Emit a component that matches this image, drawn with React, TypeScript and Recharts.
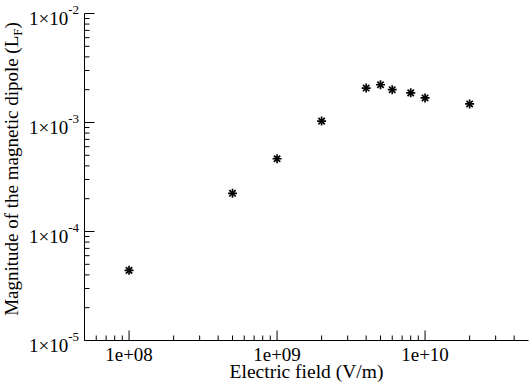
import React from "react";
import { Label, Scatter, ScatterChart, XAxis, YAxis } from "recharts";

// electric field (V/m) vs magnitude of magnetic dipole (L_F)
const FIELD = [1e8, 5e8, 1e9, 2e9, 4e9, 5e9, 6e9, 8e9, 1e10, 2e10];
const DIPOLE = [4.4e-5, 2.24e-4, 4.65e-4, 1.03e-3, 2.07e-3, 2.22e-3, 2.0e-3, 1.87e-3, 1.68e-3, 1.48e-3];

const X_MAJOR = [1e8, 1e9, 1e10];
const X_LABELS = ["1e+08", "1e+09", "1e+10"];
const X_MINOR = [
  6e7, 7e7, 8e7, 9e7,
  2e8, 3e8, 4e8, 5e8, 6e8, 7e8, 8e8, 9e8,
  2e9, 3e9, 4e9, 5e9, 6e9, 7e9, 8e9, 9e9,
  2e10, 3e10, 4e10,
];

const Y_MAJOR = [1e-5, 1e-4, 1e-3, 1e-2];
const Y_EXPONENTS = ["-5", "-4", "-3", "-2"];
const Y_MINOR = [
  2e-5, 3e-5, 4e-5, 5e-5, 6e-5, 7e-5, 8e-5, 9e-5,
  2e-4, 3e-4, 4e-4, 5e-4, 6e-4, 7e-4, 8e-4, 9e-4,
  2e-3, 3e-3, 4e-3, 5e-3, 6e-3, 7e-3, 8e-3, 9e-3,
];

const data = FIELD.map((f, i) => ({ field: f, dipole: DIPOLE[i] }));
const X_TICKS = [...X_MAJOR, ...X_MINOR].sort((a, b) => a - b);
const Y_TICKS = [...Y_MAJOR, ...Y_MINOR].sort((a, b) => a - b);

const TXT = { fontFamily: "Liberation Serif", fontSize: 19, fill: "#000" };
const MAJOR_LEN = 10;
const MINOR_LEN = 5;

function BottomTick({ x, y, payload }: any) {
  const idx = X_MAJOR.indexOf(payload.value);
  const major = idx >= 0;
  return (
    <g>
      <line x1={x} x2={x} y1={y} y2={y - (major ? MAJOR_LEN : MINOR_LEN)} stroke="#000" />
      {major && (
        <text x={x} y={y + 20} textAnchor="middle" style={TXT}>
          {X_LABELS[idx]}
        </text>
      )}
    </g>
  );
}

function TopTick({ x, y, payload }: any) {
  const major = X_MAJOR.includes(payload.value);
  return <line x1={x} x2={x} y1={y} y2={y + (major ? MAJOR_LEN : MINOR_LEN)} stroke="#000" />;
}

function LeftTick({ x, y, payload }: any) {
  const idx = Y_MAJOR.indexOf(payload.value);
  const major = idx >= 0;
  return (
    <g>
      <line x1={x} x2={x + (major ? MAJOR_LEN : MINOR_LEN)} y1={y} y2={y} stroke="#000" />
      {major && (
        <text x={x - 5.5} y={y + 11} textAnchor="end" style={TXT}>
          1×10
          <tspan dy={-10.5} style={{ fontSize: 13 }}>
            {Y_EXPONENTS[idx]}
          </tspan>
        </text>
      )}
    </g>
  );
}

function RightTick({ x, y, payload }: any) {
  const major = Y_MAJOR.includes(payload.value);
  return <line x1={x} x2={x - (major ? MAJOR_LEN : MINOR_LEN)} y1={y} y2={y} stroke="#000" />;
}

function Asterisk({ cx, cy }: any) {
  const r = 4.5;
  const d = r * 0.707;
  return (
    <g stroke="#000" strokeWidth={1.7}>
      <line x1={cx - r} x2={cx + r} y1={cy} y2={cy} />
      <line x1={cx} x2={cx} y1={cy - r} y2={cy + r} />
      <line x1={cx - d} x2={cx + d} y1={cy - d} y2={cy + d} />
      <line x1={cx - d} x2={cx + d} y1={cy + d} y2={cy - d} />
    </g>
  );
}

function YTitle() {
  return (
    <text transform="rotate(-90, 18, 169)" x={18} y={169} textAnchor="middle" style={TXT}>
      Magnitude of the magnetic dipole (L
      <tspan dy={4} style={{ fontSize: 13 }}>
        F
      </tspan>
      <tspan dy={-4}>)</tspan>
    </text>
  );
}

export default function App() {
  return (
    <div style={{ position: "absolute", left: 0, top: 0, background: "#fff" }}>
      <ScatterChart
        width={531}
        height={382}
        margin={{ top: 13.5, right: 2.5, bottom: 0, left: 8.5 }}
      >
        <XAxis
          xAxisId="bottom"
          dataKey="field"
          type="number"
          scale="log"
          domain={[5e7, 5e10]}
          allowDataOverflow
          ticks={X_TICKS}
          interval={0}
          tickSize={0}
          tickMargin={0}
          tick={<BottomTick />}
          height={41.5}
          axisLine={{ stroke: "#000" }}
        >
          <Label
            value="Electric field (V/m)"
            position="insideBottom"
            offset={4}
            style={{ ...TXT, fontSize: 19.5 }}
          />
        </XAxis>
        <XAxis
          xAxisId="top"
          orientation="top"
          dataKey="field"
          type="number"
          scale="log"
          domain={[5e7, 5e10]}
          allowDataOverflow
          ticks={X_TICKS}
          interval={0}
          tickSize={0}
          tickMargin={0}
          tick={<TopTick />}
          height={0}
          axisLine={{ stroke: "#000" }}
        />
        <YAxis
          yAxisId="left"
          dataKey="dipole"
          type="number"
          scale="log"
          domain={[1e-5, 1e-2]}
          allowDataOverflow
          ticks={Y_TICKS}
          interval={0}
          tickSize={0}
          tickMargin={0}
          tick={<LeftTick />}
          width={76}
          axisLine={{ stroke: "#000" }}
        >
          <Label content={<YTitle />} />
        </YAxis>
        <YAxis
          yAxisId="right"
          orientation="right"
          dataKey="dipole"
          type="number"
          scale="log"
          domain={[1e-5, 1e-2]}
          allowDataOverflow
          ticks={Y_TICKS}
          interval={0}
          tickSize={0}
          tickMargin={0}
          tick={<RightTick />}
          width={0}
          axisLine={{ stroke: "#000" }}
        />
        <Scatter
          xAxisId="top"
          yAxisId="right"
          data={data}
          shape={() => <g />}
          isAnimationActive={false}
        />
        <Scatter
          xAxisId="bottom"
          yAxisId="left"
          data={data}
          shape={<Asterisk />}
          isAnimationActive={false}
        />
      </ScatterChart>
    </div>
  );
}
